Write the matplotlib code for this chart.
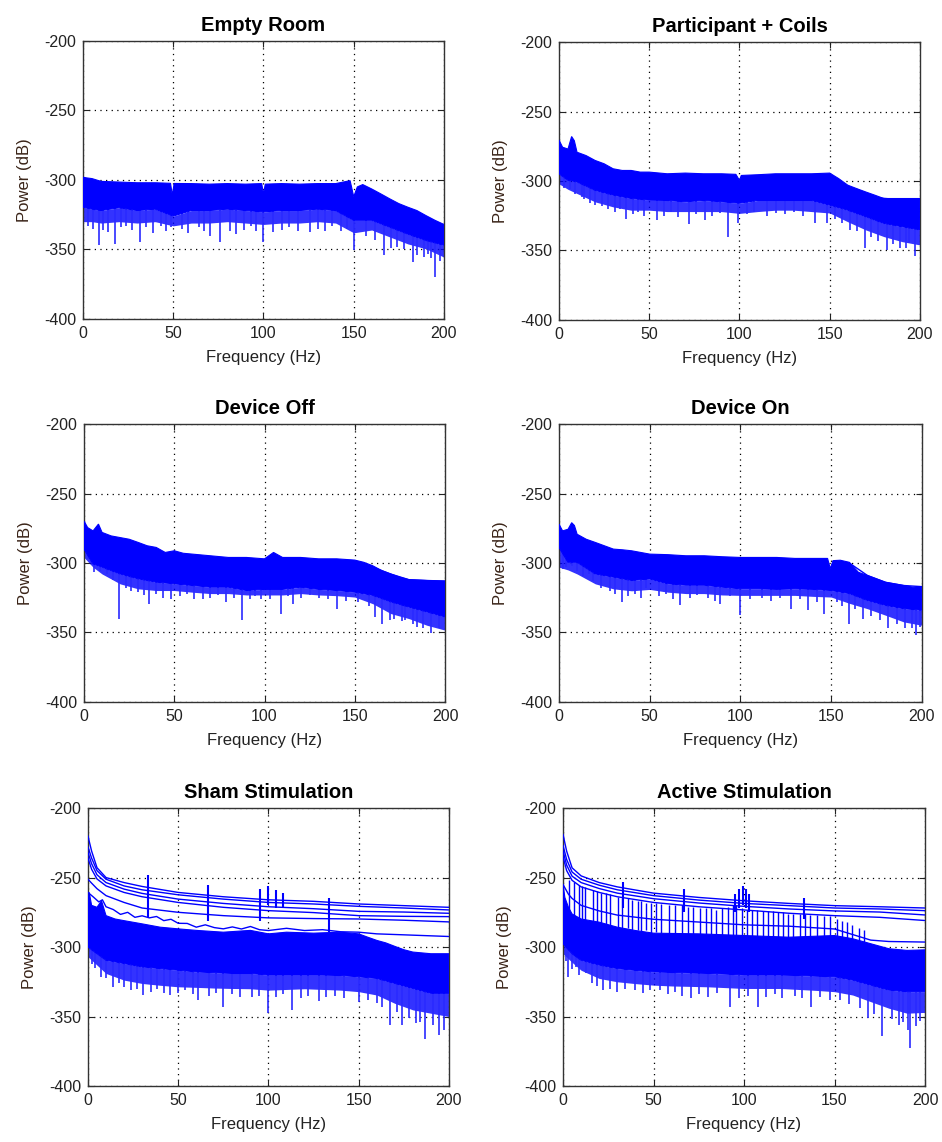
import numpy as np
import matplotlib
matplotlib.use("Agg")
import matplotlib.pyplot as plt

plt.rcParams["font.family"] = ["Liberation Sans", "DejaVu Sans"]
plt.rcParams["axes.unicode_minus"] = False

BLUE = "#0000ff"

# common coarse grid for the lower edges of the noise band
coarse_f = [0, 5, 10, 20, 30, 40, 50, 60, 70, 80, 90, 100, 110, 120, 130, 140, 150, 160, 170, 180, 190, 200]

# --- Empty Room ---
er_top_f = [0, 2, 5, 10, 20, 30, 40, 48.5, 49.5, 50.5, 60, 70, 80, 90, 99, 100, 101, 110, 120, 130, 140, 148,
            150, 152, 155, 160, 165, 170, 175, 180, 185, 190, 195, 200]
er_top = [-298, -298.5, -299, -301, -301.5, -302, -302, -302.4, -311, -302.5, -302.6, -303, -302.6, -303, -302.6,
          -310, -303, -302.6, -303, -302.6, -302.6, -300.5, -312, -305, -303.3, -306.5, -310, -313.6, -317,
          -319.6, -322, -325.6, -329, -332]
er_core = [-319.6, -321, -322, -320, -322, -321, -326, -322, -322, -321, -322, -323, -322, -322, -321, -322,
           -329, -329, -334, -339, -343.5, -347]
er_low = [-330, -330, -331, -330, -331, -330, -333, -331, -331, -330, -331, -332, -331, -331, -330, -331,
          -338, -336, -341, -346, -349.5, -355.5]
er_spike_f = [8.7, 14, 17.6, 31.5, 49, 70.5, 76, 81.6, 85, 100, 105, 126, 150, 167, 170.7, 183, 185, 189, 191,
              195.2, 198,
              3, 5.5, 11, 21, 24, 27, 35, 39, 43, 46, 55, 58, 64, 67, 89, 93, 96, 110, 114, 119, 130, 134, 138,
              143, 146, 157, 162, 174, 178, 193]
er_spike_db = [-347, -337.6, -346, -344.7, -334, -340, -344.7, -337, -339, -344.7, -337.6, -337.6, -350.7, -354,
               -349, -359, -354, -355.5, -353, -370, -358,
               -333, -335, -336, -334, -333, -336, -334, -338, -333, -337, -335, -338, -334, -337, -336, -333,
               -337, -336, -334, -337, -335, -337, -333, -337, -335, -340, -343, -348, -350, -356]

# --- Participant + Coils ---
pc_top_f = [0, 2, 5, 7, 8.5, 10, 15, 20, 25, 30, 35, 40, 45, 50, 60, 70, 80, 90, 98, 100, 101, 110, 120, 130,
            140, 150, 155, 160, 165, 170, 175, 180, 200]
pc_top = [-270.5, -275.7, -277, -268, -271, -279.3, -281.7, -285.2, -287.6, -291.2, -292.4, -292.4, -293.6,
          -293.6, -294.8, -294.3, -294.8, -294.8, -295.2, -299.5, -296, -295.5, -294.8, -294.8, -294.8, -294.3,
          -298.3, -303, -305.5, -307.9, -310.2, -312.6, -312.6]
pc_core = [-294.8, -299.5, -300.7, -306.7, -310.2, -312.6, -313.8, -314, -315, -314, -315, -316, -314, -314,
           -314, -314, -317.4, -321, -325.7, -330.5, -332.9, -335.2]
pc_low = [-302, -306, -309, -315, -318.6, -321, -321, -322, -322, -322, -322, -323.3, -322, -321, -321, -322,
          -323, -329.3, -335.2, -340, -343.6, -346]
pc_spike_f = [8.9, 12.6, 20, 37.4, 54.3, 72, 81, 93.5, 99, 120.4, 142, 148.5, 161, 169.4, 181.5, 189, 194, 197,
              3, 6, 14, 17, 24, 27, 31, 34, 41, 44, 47, 58, 62, 66, 76, 85, 89, 104, 108, 115, 125, 130, 135,
              153, 157, 165, 173, 177, 185, 192]
pc_spike_db = [-309, -311.4, -317.4, -327, -328, -331, -328, -340, -330.5, -323, -330.5, -330.5, -335, -348.3,
               -349.5, -348.3, -344.5, -353.8,
               -305, -306, -313, -316, -318, -320, -322, -320, -324, -322, -325, -325, -322, -326, -324, -325,
               -323, -324, -322, -325, -324, -322, -325, -327, -330, -336, -340, -343, -345, -348]
pc_tail_f = [165, 175, 185, 200]
pc_tails = [[-306, -312, -313, -313], [-312, -316, -318.5, -320], [-316, -320, -321.5, -322],
            [-319, -323, -325, -326]]

# --- Device Off ---
do_top_f = [0, 2, 5, 8, 10, 15, 20, 25, 30, 35, 40, 45, 50, 55, 60, 70, 80, 90, 100, 105, 110, 120, 130, 140,
            150, 155, 160, 165, 170, 175, 180, 190, 200]
do_top = [-269.8, -274.5, -276.9, -272, -278, -280.5, -281.7, -282.9, -285.2, -287.6, -288.8, -292.4, -291.2,
          -293, -293.6, -294.8, -296, -296, -297, -292.4, -296, -296, -297, -297, -297.9, -299.5, -302, -305.5,
          -307.9, -310.2, -312, -312.6, -313]
do_core = [-290, -300.7, -303, -307.9, -311.4, -313.8, -315, -316.2, -317.4, -317.4, -319.8, -319, -319, -317.4,
           -319, -319.8, -321, -323.3, -328, -331.7, -335.2, -338.8]
do_low = [-296, -303, -307.9, -315, -318.6, -319.8, -319.8, -321, -322, -322, -323, -323, -323, -322, -323,
          -323.5, -324.5, -329.3, -336.4, -340, -344.8, -348.3]
do_spike_f = [2, 5.7, 19.6, 26, 35.9, 48.3, 65.9, 78.9, 87.6, 98.3, 109, 116, 140, 161, 165, 169.6, 178, 184.4,
              192, 196.5,
              4, 9, 13, 16, 23, 30, 33, 40, 44, 53, 57, 61, 70, 74, 83, 92, 95, 103, 113, 120, 125, 130, 135,
              145, 152, 158, 172, 176, 182, 188]
do_spike_db = [-297, -306.7, -340, -320, -329.3, -325.7, -325.7, -328, -340.7, -325.7, -336.4, -329.3, -332.9,
               -338.8, -343.6, -341, -341, -346, -350.7, -347,
               -300, -306, -308, -312, -318, -321, -323, -322, -325, -324, -322, -326, -325, -323, -325, -326,
               -324, -326, -324, -325, -323, -325, -326, -327, -328, -331, -340, -342, -344, -347]
do_tail_f = [160, 170, 180, 190, 200]
do_tails = [[-303, -308, -312, -312.6, -313], [-306, -312, -315, -316, -316.5], [-309, -315, -318, -319.5, -320],
            [-312, -318, -321.5, -323, -323.5]]

# --- Device On ---
dn_top_f = [0, 2, 5, 7, 8.5, 10, 15, 20, 25, 30, 35, 40, 45, 50, 60, 70, 80, 90, 100, 110, 120, 130, 140, 148,
            149.5, 151, 155, 160, 165, 170, 175, 180, 185, 190, 195, 200]
dn_top = [-272, -276.9, -275.7, -271, -273, -279.3, -282.9, -285.2, -287.6, -290, -290.5, -291.2, -292.4, -293.6,
          -294, -294.8, -294.8, -295.5, -296, -296, -296, -296.7, -296.7, -296.7, -304, -298.3, -298, -299.5,
          -306.7, -309, -311.4, -313.8, -315, -316.2, -317.4, -317]
dn_core = [-288.8, -299.5, -299.5, -307.9, -310.2, -312.6, -311.5, -315, -316, -316, -317.4, -318.6, -318.6,
           -319, -318.6, -319, -319.8, -322, -327, -330.5, -332.9, -334]
dn_low = [-303, -305, -307.9, -315, -318.6, -320, -319, -321, -322, -322, -323, -323.3, -323.3, -323.3, -323.3,
          -324, -324.5, -329, -332.9, -337.6, -342.4, -344.8]
dn_spike_f = [2.2, 7, 16.7, 28, 34.8, 48.1, 66.7, 89, 100, 127.8, 137, 146, 160, 167.6, 181.5, 190.7, 194.4, 197,
              4, 10, 13, 19, 23, 31, 38, 42, 45, 55, 59, 63, 72, 76, 82, 86, 94, 105, 112, 117, 122, 133, 142,
              153, 156, 163, 172, 177, 186, 199]
dn_spike_db = [-304.3, -302, -307.9, -320, -328, -318, -330.5, -329.3, -337.6, -333, -334, -336.4, -343.6, -340,
               -347, -347, -347, -351.9,
               -303, -306, -309, -313, -318, -322, -324, -322, -325, -324, -322, -326, -325, -323, -325, -327,
               -324, -326, -325, -327, -325, -326, -328, -328, -331, -333, -338, -341, -344, -346]
dn_tail_f = [160, 170, 180, 190, 200]
dn_tails = [[-300, -309, -314, -316.2, -317], [-304, -312, -316.5, -318.5, -319.8],
            [-307, -315, -319.5, -322, -323.3], [-310, -318, -322, -325, -326.5]]

# --- Sham Stimulation ---
sh_top_f = [0, 0.7, 2, 5, 7.5, 8.5, 10, 15, 20, 30, 40, 50, 60, 75, 90, 100, 110, 125, 140, 150, 155, 160, 165,
            170, 175, 180, 190, 200]
sh_top = [-265.5, -260.7, -270, -271.4, -266.7, -271, -277.4, -279.8, -281, -283.3, -285.7, -286.9, -288, -289.3,
          -288, -290.5, -289.3, -290, -289.3, -290.5, -292.9, -295.2, -297, -299.5, -301.9, -303.6, -304.8, -304.8]
sh_core = [-300, -304.8, -309.5, -311.9, -314.3, -315.5, -316.7, -317.9, -318.5, -319, -319, -320.2, -320.2,
           -320.2, -320.2, -320.5, -321.4, -322.6, -326.2, -329.8, -333.3, -333.3]
sh_low = [-307, -313, -319, -323.8, -326.2, -327.5, -328.6, -329, -329.5, -329.8, -330, -331, -330.5, -330,
          -330.5, -331, -332.1, -334.5, -340.5, -345.2, -347.6, -350]
sh_spike_f = [7.4, 13.9, 24, 30.6, 45.4, 61, 75, 90.7, 99.6, 113, 127.8, 150, 167.6, 174, 181.5, 187, 194.4, 197.2,
              2, 4, 10, 17, 20, 27, 35, 38, 42, 50, 54, 58, 67, 71, 80, 84, 95, 104, 108, 118, 122, 132, 137,
              142, 155, 160, 163, 171, 178, 184, 191]
sh_spike_db = [-321.4, -328.6, -331, -334.5, -334.5, -338, -342.9, -336, -347.6, -345.2, -339, -339.3, -356,
               -356, -354.8, -366, -363, -359.5,
               -312, -315, -322, -326, -329, -330, -332, -330, -333, -333, -331, -334, -335, -333, -334, -336,
               -335, -336, -334, -337, -335, -336, -335, -337, -338, -340, -343, -347, -351, -354, -356]

# individual channel traces above the noise band (sham and active)
line_f = [0, 2, 5, 10, 20, 30, 50, 75, 100, 125, 150, 175, 200]
sh_lines = [
    [-220.2, -230.9, -242.9, -250, -253.6, -256.4, -260.7, -263.8, -266, -267.1, -269, -270.2, -271.4],
    [-228, -236, -245, -251.2, -256, -258.8, -262.4, -265.5, -267.9, -269, -270.7, -271.9, -273.3],
    [-232, -240, -248, -253.6, -258.3, -261.4, -265.5, -268.6, -271, -272.4, -274.3, -274.8, -275.7],
    [-236, -244, -251, -256, -260.7, -263.8, -267.9, -271.4, -273.8, -275.2, -277.4, -277.9, -278.1],
    [-251.2, -254, -258, -263, -267.9, -271.9, -275, -277.4, -279, -279.5, -279.8, -280.7, -281.9],
]
sh_wavy_f = [0, 3, 6, 8, 10, 14, 18, 22, 26, 30, 34, 38, 42, 46, 50, 55, 60, 65, 70, 75, 80, 85, 90, 95, 100,
             110, 120, 130, 140, 150, 160, 175, 200]
sh_wavy = [-260.7, -264, -267.5, -266, -271, -273, -276.5, -275, -278.6, -277.5, -279, -278, -281, -280, -282.9,
           -283, -285.7, -284, -286, -286.9, -285.5, -287, -285.2, -287.5, -288.1, -286.5, -288.1, -287.5, -289,
           -289.3, -290.5, -291.2, -292.4]
sh_peak_f = [33, 66.7, 95.4, 100, 104, 108, 133.3]
sh_peak_hi = [-248, -255, -258.3, -256, -259, -261, -265]
sh_peak_lo = [-278.6, -281, -281, -270, -272, -272, -289.3]

# --- Active Stimulation ---
ac_top_f = [0, 1, 3, 5, 10, 20, 30, 40, 50, 75, 100, 125, 150, 160, 170, 180, 190, 200]
ac_top = [-254.8, -264.3, -271.4, -276.2, -279.8, -282.1, -285.7, -288.1, -290, -290.5, -291.7, -292.9, -291.7,
          -294, -297.6, -301.2, -302.4, -302]
ac_core = [-297.6, -304.8, -309.5, -313, -315.5, -316.8, -317.9, -318.3, -318.7, -319, -319.5, -320.2, -320.2,
           -320.2, -320.5, -321, -321.4, -323.8, -327.4, -331, -332.1, -332.1]
ac_low = [-304.8, -311, -316.7, -322.6, -325, -326.3, -327.4, -328, -328.3, -328.6, -329.2, -329.8, -329.8,
          -329.8, -330.5, -331.2, -332.1, -334.5, -339.3, -344, -347.6, -347]
ac_spike_f = [2.8, 7, 12.9, 22, 39.6, 53.4, 70.9, 92, 107.7, 137.2, 147.3, 168.5, 176.2, 185.6, 190.6, 191.9, 195.2,
              1.5, 5, 9, 16, 19, 26, 30, 34, 44, 48, 58, 62, 66, 75, 80, 85, 97, 102, 112, 117, 121, 128, 132,
              142, 153, 158, 164, 172, 182, 188, 197]
ac_spike_db = [-321.4, -314.3, -319, -331, -331, -331, -336.9, -342.9, -342.9, -342.9, -338, -351.2, -364.3,
               -356, -359.5, -372.6, -357.1,
               -310, -316, -320, -326, -328, -330, -332, -330, -333, -331, -334, -332, -335, -334, -336, -333,
               -337, -335, -336, -334, -337, -335, -337, -336, -338, -341, -344, -348, -352, -354, -353]
ac_lines = [
    [-219, -231, -243, -248.8, -253.6, -256.7, -261.2, -264.3, -266.7, -268.6, -270.2, -271, -271.9],
    [-227, -237, -246, -251.2, -255.5, -258.8, -263, -266.2, -268.6, -270.2, -271.9, -272.6, -273.8],
    [-231, -241, -249, -253.6, -257.9, -261.2, -265.2, -268.3, -270.7, -272.6, -274, -274.8, -276.9],
    [-235, -245, -252, -256.7, -260.7, -263.8, -267.9, -271, -273.3, -275.7, -277.4, -278.6, -280.9],
]
ac_wavy_f = [0, 3, 5, 10, 20, 30, 50, 75, 100, 125, 150, 160, 170, 180, 200]
ac_wavy = [-255, -262, -265, -270, -274, -277, -280, -282, -284, -285, -287, -291, -295, -296, -296.4]
ac_peak_f = [33, 67, 95, 97, 99.4, 101, 103, 133]
ac_peak_hi = [-253, -258, -262, -258, -256, -258, -262, -265]
ac_peak_lo = [-272, -275, -275, -272, -270, -272, -275, -280]
ac_comb_f = [3.3, 6.1, 8.9, 10.7, 12.2, 16.3, 18.5, 20.9, 23.7, 25.9, 30.2, 32.6, 35.7, 38.1, 41.3, 43.1, 45.9,
             48.7, 51.4, 54.2, 58.8, 61.6, 65.9, 69.0, 71.8, 75.5, 79.2, 82.0, 84.7, 88.1, 91.2, 94.0, 95.8, 98.6,
             101.4, 104.2, 107.0, 110.6, 113.4, 116.2, 119.0, 121.7, 124.5, 127.3, 131.0, 133.8, 136.5, 140.2,
             143.9, 147.6, 151.3, 154.1, 156.9, 159.7, 163.4, 166.1]
ac_comb_hi = [-252, -253, -255, -256, -257, -259, -260, -261, -261, -262, -264, -265, -265, -266, -267, -267,
              -268, -268, -268, -269, -270, -270, -270, -271, -271, -272, -272, -272, -273, -272, -271, -270,
              -270, -272, -273, -273, -273, -274, -274, -274, -275, -275, -276, -276, -276, -276, -277, -277,
              -278, -278, -280, -281, -282, -284, -286, -288]
ac_comb_lo = [-278, -280, -281, -280, -282, -283, -282, -284, -285, -284, -286, -287, -286, -288, -288, -289,
              -288, -290, -289, -290, -291, -290, -291, -292, -291, -292, -291, -292, -293, -292, -293, -292,
              -293, -292, -293, -292, -293, -294, -293, -294, -293, -294, -294, -293, -294, -293, -294, -293,
              -294, -293, -294, -295, -296, -297, -298, -299]

titles = ["Empty Room", "Participant + Coils", "Device Off", "Device On", "Sham Stimulation", "Active Stimulation"]

# axes rectangles in figure fractions (left, bottom, width, height)
rects = [(0.0881, 0.7207, 0.3832, 0.2434), (0.5934, 0.7198, 0.3832, 0.2434),
         (0.0892, 0.3853, 0.3832, 0.2434), (0.5934, 0.3853, 0.3853, 0.2434),
         (0.0934, 0.0490, 0.3832, 0.2434), (0.5977, 0.0490, 0.3843, 0.2434)]


def draw_band(ax, top_f, top, core, low, spike_f, spike_db):
    # fringe of the noisy band, then the downward spikes
    ax.fill_between(coarse_f, core, low, color=BLUE, alpha=0.8, lw=0, zorder=2)
    start = np.interp(spike_f, coarse_f, core)
    ax.vlines(spike_f, spike_db, start, color="#2a2aff", lw=1.2, zorder=2)
    # dense part of the band
    xs = np.r_[top_f, coarse_f[::-1]]
    ys = np.r_[top, core[::-1]]
    ax.fill(xs, ys, color=BLUE, lw=0.8, zorder=3)


fig = plt.figure(figsize=(9.42, 11.42), dpi=100)
axes = [fig.add_axes(r) for r in rects]

draw_band(axes[0], er_top_f, er_top, er_core, er_low, er_spike_f, er_spike_db)
draw_band(axes[1], pc_top_f, pc_top, pc_core, pc_low, pc_spike_f, pc_spike_db)
draw_band(axes[2], do_top_f, do_top, do_core, do_low, do_spike_f, do_spike_db)
draw_band(axes[3], dn_top_f, dn_top, dn_core, dn_low, dn_spike_f, dn_spike_db)
draw_band(axes[4], sh_top_f, sh_top, sh_core, sh_low, sh_spike_f, sh_spike_db)
draw_band(axes[5], ac_top_f, ac_top, ac_core, ac_low, ac_spike_f, ac_spike_db)

for ax, tf, tails in [(axes[1], pc_tail_f, pc_tails), (axes[2], do_tail_f, do_tails),
                      (axes[3], dn_tail_f, dn_tails)]:
    for t in tails:
        ax.plot(tf, t, color=BLUE, lw=1, zorder=4)

for row in sh_lines:
    axes[4].plot(line_f, row, color=BLUE, lw=1, zorder=4)
axes[4].plot(sh_wavy_f, sh_wavy, color=BLUE, lw=1, zorder=4)
axes[4].vlines(sh_peak_f, sh_peak_lo, sh_peak_hi, color=BLUE, lw=1.5, zorder=4)

for row in ac_lines:
    axes[5].plot(line_f, row, color=BLUE, lw=1, zorder=4)
axes[5].plot(ac_wavy_f, ac_wavy, color=BLUE, lw=1, zorder=4)
axes[5].vlines(ac_comb_f, ac_comb_lo, ac_comb_hi, color=BLUE, lw=1, zorder=4)
axes[5].vlines(ac_peak_f, ac_peak_lo, ac_peak_hi, color=BLUE, lw=1.5, zorder=4)

for ax, title in zip(axes, titles):
    ax.set_xlim(0, 200)
    ax.set_ylim(-400, -200)
    ax.set_xticks([0, 50, 100, 150, 200])
    ax.set_yticks([-400, -350, -300, -250, -200])
    ax.grid(True, color="black", linestyle=(0, (1, 3.5)), linewidth=0.9)
    ax.set_axisbelow(True)
    ax.tick_params(direction="in", length=4, width=0.8, labelsize=11.5, colors="#222222",
                   top=True, right=True, pad=5)
    for sp in ax.spines.values():
        sp.set_color("#333333")
        sp.set_linewidth(1.0)
    ax.set_title(title, fontsize=14.5, fontweight="bold", pad=7)
    ax.set_xlabel("Frequency (Hz)", fontsize=12, color="#222222")
    ax.set_ylabel("Power (dB)", fontsize=12, color="#3a2418")
    ax.yaxis.set_label_coords(-0.14, 0.5)
    ax.xaxis.set_label_coords(0.5, -0.11)
    ax.xaxis.label.set_va("top")

fig.savefig("out.png", dpi=100)
